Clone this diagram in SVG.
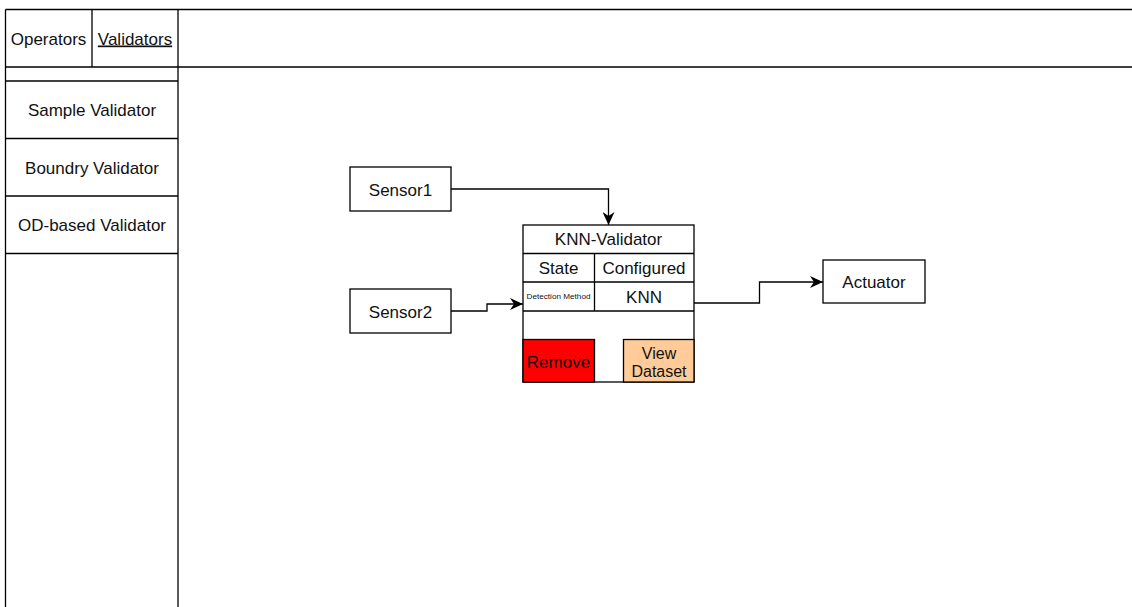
<svg xmlns="http://www.w3.org/2000/svg" width="1132" height="607" viewBox="0 0 1132 607">
  <style>
    .box { fill: #ffffff; stroke: #000000; stroke-width: 1.3; }
    .rule { fill: none; stroke: #000000; stroke-width: 1.3; }
    .edge { fill: none; stroke: #000000; stroke-width: 1.3; marker-end: url(#arrow); }
    text { font-family: "Liberation Sans", Arial, Helvetica, sans-serif; font-size: 17px; fill: #111111; text-anchor: middle; }
    .tiny { font-size: 6.5px; }
    .btn { font-size: 16px; }
  </style>
  <defs>
    <marker id="arrow" viewBox="0 0 13 12" refX="13" refY="6" markerWidth="13" markerHeight="12" markerUnits="userSpaceOnUse" orient="auto">
      <path d="M0,0 L13,6 L0,12 L4,6 Z" fill="#000000"/>
    </marker>
  </defs>

  <rect width="1132" height="607" fill="#ffffff"/>

  <!-- Side panel with tabs and validator list -->
  <g id="panel">
    <line class="rule" x1="5.5" y1="9.5" x2="1132" y2="9.5"/>
    <line class="rule" x1="5.5" y1="67" x2="1132" y2="67"/>
    <line class="rule" x1="5.5" y1="9.5" x2="5.5" y2="607"/>
    <line class="rule" x1="178" y1="9.5" x2="178" y2="607"/>
    <line class="rule" x1="92" y1="9.5" x2="92" y2="67"/>
    <line class="rule" x1="5.5" y1="81" x2="178" y2="81"/>
    <line class="rule" x1="5.5" y1="138.5" x2="178" y2="138.5"/>
    <line class="rule" x1="5.5" y1="196" x2="178" y2="196"/>
    <line class="rule" x1="5.5" y1="253.5" x2="178" y2="253.5"/>
    <g id="tab-operators"><text x="48.5" y="44.5">Operators</text></g>
    <g id="tab-validators"><text x="135" y="44.5" text-decoration="underline">Validators</text></g>
    <g id="item-sample"><text x="92" y="116">Sample Validator</text></g>
    <g id="item-boundry"><text x="92" y="173.5">Boundry Validator</text></g>
    <g id="item-od"><text x="92" y="231">OD-based Validator</text></g>
  </g>

  <!-- Connectors -->
  <g id="connectors">
    <path class="edge" d="M451,189 H608.5 V225"/>
    <path class="edge" d="M451,311 H487 V304 H523"/>
    <path class="edge" d="M694,303 H759.5 V282 H823"/>
  </g>

  <g id="sensor1">
    <rect class="box" x="350" y="167" width="101" height="44"/>
    <text x="400.5" y="195.5">Sensor1</text>
  </g>

  <g id="sensor2">
    <rect class="box" x="350" y="289" width="101" height="44"/>
    <text x="400.5" y="317.5">Sensor2</text>
  </g>

  <g id="knn-validator">
    <rect class="box" x="523" y="225" width="171" height="157"/>
    <line class="rule" x1="523" y1="253.5" x2="694" y2="253.5"/>
    <line class="rule" x1="523" y1="282" x2="694" y2="282"/>
    <line class="rule" x1="523" y1="311" x2="694" y2="311"/>
    <line class="rule" x1="594.5" y1="253.5" x2="594.5" y2="311"/>
    <text x="608.5" y="245">KNN-Validator</text>
    <text x="558.5" y="273.5">State</text>
    <text x="644" y="273.5">Configured</text>
    <text class="tiny" x="558.5" y="299" textLength="64" lengthAdjust="spacingAndGlyphs">Detection Method</text>
    <text x="644" y="302.5">KNN</text>
    <rect x="523" y="339.5" width="71.5" height="42.5" fill="#ff0000" stroke="#000000" stroke-width="1.3"/>
    <text x="558.5" y="367.5">Remove</text>
    <rect x="623.5" y="339.5" width="70.5" height="42.5" fill="#ffcc99" stroke="#000000" stroke-width="1.3"/>
    <text class="btn" x="659" y="358.5">View</text>
    <text class="btn" x="659" y="376.5">Dataset</text>
  </g>

  <g id="actuator">
    <rect class="box" x="823" y="260" width="102" height="43"/>
    <text x="874" y="288">Actuator</text>
  </g>
</svg>
